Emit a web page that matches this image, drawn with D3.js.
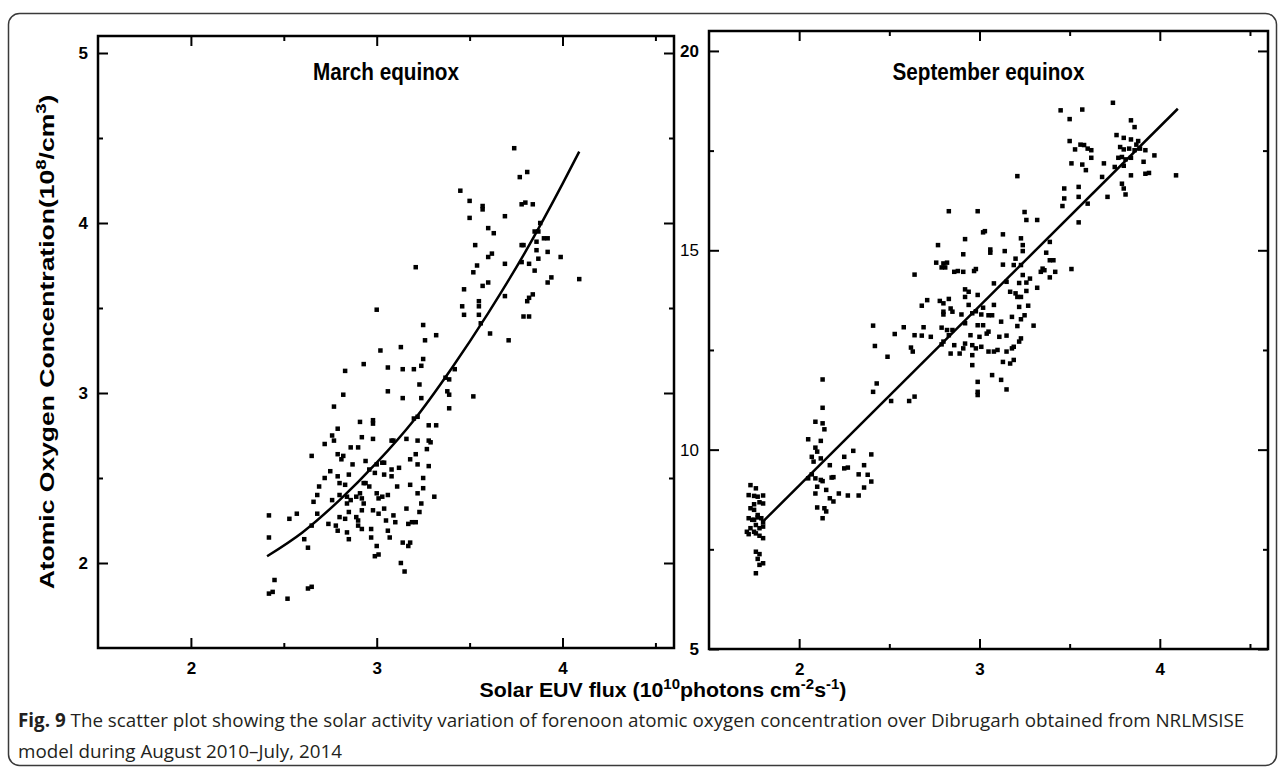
<!DOCTYPE html>
<html>
<head>
<meta charset="utf-8">
<script src="https://cdn.jsdelivr.net/npm/d3@7"></script>
<style>
  body { margin: 0; background: #fff; }
  svg text { font-family: "Liberation Sans", Arial, sans-serif; }
</style>
</head>
<body>
<div id="canvas"></div>
<script>
// March equinox: solar EUV flux (10^10 photons cm-2 s-1) vs O concentration (10^8/cm3)
const marchFlux = [
  3.74, 3.81, 3.77, 3.45, 3.50, 3.57, 3.57, 3.78, 3.80, 3.84,
  3.50, 3.69, 3.88, 3.60, 3.63, 3.85, 3.87, 3.90, 3.92, 3.86,
  3.53, 3.78, 3.79, 3.86, 3.92, 3.99, 3.60, 3.62, 3.78, 3.82,
  3.87, 3.69, 3.54, 3.21, 3.52, 3.85, 3.94, 3.92, 4.09, 3.47,
  3.57, 3.60, 3.69, 3.81, 3.84, 3.82, 3.55, 3.55, 3.46, 3.47,
  3.55, 3.79, 3.82, 3.00, 3.56, 3.25, 3.61, 3.26, 3.32, 3.71,
  3.02, 3.13, 3.25, 3.24, 2.93, 2.83, 3.06, 3.14, 3.20, 3.42,
  3.23, 3.37, 3.39, 2.82, 3.06, 3.38, 3.39, 3.52, 3.14, 3.24,
  2.77, 3.39, 3.20, 3.22, 3.28, 3.32, 2.79, 2.91, 2.98, 2.98,
  2.76, 2.77, 2.72, 2.92, 2.98, 3.08, 3.09, 3.16, 3.22, 3.28,
  3.29, 2.86, 2.90, 2.79, 2.82, 2.65, 3.27, 2.81, 2.94, 3.00,
  3.03, 3.04, 2.87, 3.21, 3.18, 3.22, 3.28, 2.75, 2.72, 2.79,
  2.85, 2.96, 2.99, 3.04, 3.08, 3.12, 3.08, 3.25, 2.69, 2.80,
  2.83, 2.93, 2.94, 2.96, 3.11, 3.18, 3.25, 3.31, 2.66, 2.68,
  2.76, 2.80, 2.84, 2.86, 2.89, 2.91, 2.92, 3.00, 3.01, 3.03,
  3.06, 3.22, 3.24, 2.84, 2.93, 2.92, 2.98, 3.01, 3.04, 3.09,
  3.16, 3.23, 2.42, 2.53, 2.57, 2.68, 2.65, 2.74, 2.80, 2.83,
  2.85, 2.89, 2.90, 2.90, 2.92, 3.05, 3.10, 3.17, 3.19, 3.21,
  2.78, 2.79, 2.84, 2.97, 3.06, 2.42, 2.61, 2.63, 2.85, 2.97,
  3.07, 3.14, 3.18, 3.17, 3.00, 2.99, 3.01, 3.13, 3.15, 2.45,
  2.52, 2.42, 2.44, 2.63, 2.65
];
const marchO = [
  4.44, 4.30, 4.27, 4.19, 4.13, 4.10, 4.08, 4.11, 4.12, 4.11,
  4.03, 4.04, 4.00, 3.97, 3.94, 3.95, 3.95, 3.91, 3.91, 3.89,
  3.87, 3.87, 3.87, 3.84, 3.83, 3.80, 3.80, 3.82, 3.77, 3.76,
  3.79, 3.76, 3.75, 3.74, 3.71, 3.72, 3.68, 3.65, 3.67, 3.61,
  3.63, 3.65, 3.57, 3.54, 3.58, 3.56, 3.54, 3.51, 3.51, 3.46,
  3.46, 3.45, 3.45, 3.49, 3.41, 3.40, 3.35, 3.31, 3.34, 3.31,
  3.25, 3.27, 3.20, 3.16, 3.17, 3.13, 3.15, 3.14, 3.14, 3.14,
  3.05, 3.09, 3.08, 2.99, 3.01, 3.01, 2.99, 2.98, 2.97, 2.97,
  2.92, 2.91, 2.85, 2.86, 2.81, 2.81, 2.79, 2.83, 2.84, 2.82,
  2.75, 2.72, 2.70, 2.74, 2.73, 2.72, 2.72, 2.73, 2.72, 2.72,
  2.71, 2.68, 2.68, 2.64, 2.63, 2.63, 2.67, 2.61, 2.60, 2.58,
  2.59, 2.59, 2.58, 2.64, 2.61, 2.58, 2.57, 2.54, 2.50, 2.51,
  2.52, 2.55, 2.53, 2.52, 2.55, 2.56, 2.51, 2.50, 2.45, 2.47,
  2.46, 2.47, 2.47, 2.45, 2.45, 2.46, 2.44, 2.39, 2.36, 2.40,
  2.37, 2.40, 2.39, 2.37, 2.39, 2.41, 2.38, 2.41, 2.38, 2.39,
  2.40, 2.41, 2.35, 2.35, 2.35, 2.31, 2.31, 2.29, 2.32, 2.28,
  2.32, 2.30, 2.28, 2.26, 2.29, 2.29, 2.22, 2.23, 2.27, 2.26,
  2.30, 2.27, 2.25, 2.22, 2.20, 2.25, 2.24, 2.23, 2.24, 2.24,
  2.22, 2.19, 2.18, 2.20, 2.19, 2.15, 2.14, 2.09, 2.14, 2.15,
  2.15, 2.12, 2.12, 2.10, 2.10, 2.04, 2.05, 2.00, 1.95, 1.90,
  1.79, 1.82, 1.83, 1.85, 1.86
];
// fitted curve
const marchFitFlux = [2.41, 2.6, 2.8, 3.0, 3.2, 3.4, 3.6, 3.8, 4.0, 4.09];
const marchFitO = [2.04, 2.18, 2.37, 2.59, 2.84, 3.14, 3.47, 3.83, 4.23, 4.42];

// September equinox
const septFlux = [
  3.74, 3.45, 3.57, 3.50, 3.84, 3.86, 3.76, 3.80, 3.50, 3.84,
  3.88, 3.87, 3.56, 3.58, 3.60, 3.62, 3.53, 3.78, 3.80, 3.83,
  3.86, 3.89, 3.92, 3.97, 3.62, 3.79, 3.81, 3.77, 3.84, 3.69,
  3.91, 3.51, 3.57, 3.59, 3.68, 3.75, 3.80, 3.84, 3.92, 3.94,
  4.09, 3.21, 3.79, 3.80, 3.81, 3.71, 3.47, 3.55, 3.47, 3.55,
  3.46, 3.60, 3.55, 2.83, 2.99, 3.25, 3.26, 3.32, 3.03, 3.02,
  3.13, 2.92, 3.23, 3.39, 2.77, 3.24, 2.91, 3.06, 3.06, 3.14,
  3.24, 3.37, 3.39, 3.41, 3.51, 2.76, 2.80, 2.82, 2.79, 2.81,
  2.88, 2.86, 2.91, 2.97, 2.98, 3.13, 3.20, 3.19, 3.23, 3.35,
  3.36, 3.42, 3.34, 3.39, 3.24, 2.64, 3.28, 3.32, 3.26, 3.22,
  3.15, 3.08, 2.92, 2.94, 2.92, 2.99, 3.17, 3.20, 3.21, 3.26,
  3.23,
  2.68, 2.71, 2.78, 2.80, 2.83, 2.84, 2.85, 2.80, 2.80, 2.90,
  2.94, 2.96, 2.98, 3.01, 3.02, 3.05, 3.07, 3.08, 3.12, 3.18,
  3.22, 3.27, 3.25, 3.23, 3.30, 2.41, 2.58, 2.53, 2.64, 2.68,
  2.69, 2.73, 2.79, 2.82, 2.85, 2.83, 2.92, 2.95, 2.99, 3.02,
  3.00, 3.04, 3.05, 3.11, 3.15, 3.21, 3.23, 3.22, 2.42, 2.62,
  2.63, 2.79, 2.80, 2.86, 2.84, 2.89, 2.91, 2.92, 2.96, 2.98,
  2.96, 3.01, 3.05, 3.08, 3.10, 3.15, 3.18, 3.19, 3.13, 3.17,
  3.19, 2.49, 2.96, 3.07, 3.12, 2.99, 2.99, 3.15, 2.99, 2.43,
  2.41, 2.51, 2.61, 2.64, 2.13, 2.13, 2.09, 2.13, 2.14, 2.12,
  2.05, 2.09, 2.10, 2.07, 2.08, 2.12, 2.17, 2.25, 2.30, 2.40,
  2.25, 2.27, 2.36, 2.38, 2.33, 2.40, 2.36, 2.05, 2.07, 2.09,
  2.13, 2.10, 2.09, 2.15, 2.17, 2.19, 2.22, 2.27, 2.33, 2.10,
  2.14, 2.15, 2.13, 2.18, 2.19, 2.12,
  1.73, 1.76, 1.72, 1.75, 1.77, 1.80, 1.75, 1.78, 1.80, 1.73,
  1.75, 1.72, 1.75, 1.77, 1.79, 1.80, 1.76, 1.73, 1.75, 1.78,
  1.80, 1.72, 1.76, 1.78, 1.80, 1.76, 1.78, 1.77, 1.80, 1.78,
  1.76, 1.74, 1.71, 1.77
];
const septO = [
  18.70, 18.51, 18.53, 18.29, 18.26, 18.09, 17.89, 17.82, 17.74, 17.78,
  17.74, 17.65, 17.65, 17.64, 17.55, 17.51, 17.53, 17.59, 17.53, 17.55,
  17.51, 17.55, 17.51, 17.38, 17.32, 17.34, 17.28, 17.32, 17.32, 17.18,
  17.22, 17.18, 17.15, 17.01, 16.84, 17.09, 17.12, 16.88, 16.92, 16.94,
  16.88, 16.86, 16.67, 16.55, 16.40, 16.34, 16.55, 16.59, 16.30, 16.34,
  16.11, 16.17, 15.70, 15.98, 15.98, 15.96, 15.76, 15.76, 15.48, 15.45,
  15.40, 15.28, 15.30, 15.21, 15.13, 15.13, 14.90, 15.02, 14.94, 14.98,
  14.98, 14.94, 14.75, 14.75, 14.53, 14.69, 14.67, 14.69, 14.57, 14.57,
  14.48, 14.46, 14.46, 14.48, 14.53, 14.64, 14.79, 14.63, 14.63, 14.54,
  14.50, 14.46, 14.46, 14.32, 14.38, 14.39, 14.29, 14.06, 14.19, 14.18,
  14.21, 14.17, 14.02, 13.96, 13.83, 13.88, 13.96, 13.92, 13.83, 13.98,
  13.83,
  13.61, 13.75, 13.73, 13.67, 13.78, 13.54, 13.46, 13.46, 13.39, 13.39,
  13.63, 13.42, 13.47, 13.39, 13.56, 13.37, 13.37, 13.63, 13.21, 13.33,
  13.58, 13.61, 13.37, 13.27, 13.11, 13.11, 13.07, 12.90, 12.87, 12.86,
  13.07, 12.83, 13.06, 13.00, 13.00, 12.87, 13.17, 12.87, 13.12, 13.12,
  12.83, 12.91, 12.96, 12.83, 12.86, 13.10, 12.79, 12.71, 12.60, 12.56,
  12.46, 12.64, 12.71, 12.62, 12.41, 12.41, 12.54, 12.66, 12.62, 12.54,
  12.37, 12.58, 12.46, 12.46, 12.50, 12.46, 12.54, 12.58, 12.20, 12.16,
  12.25, 12.33, 12.12, 11.87, 11.75, 11.70, 11.37, 11.51, 11.45, 11.66,
  11.45, 11.22, 11.22, 11.33, 11.76, 11.05, 10.70, 10.66, 10.51, 10.22,
  10.26, 10.05, 9.95, 9.82, 9.70, 9.78, 9.61, 9.82, 9.97, 9.88,
  9.53, 9.55, 9.61, 9.37, 9.38, 9.20, 9.05, 9.28, 9.38, 9.28,
  9.21, 9.07, 8.90, 8.99, 8.78, 8.70, 8.90, 8.85, 8.85, 8.55,
  8.53, 8.45, 8.28, 9.30, 9.31, 9.24,
  9.11, 9.03, 8.86, 8.84, 8.82, 8.85, 8.63, 8.68, 8.65, 8.53,
  8.49, 8.28, 8.24, 8.30, 8.28, 8.18, 8.11, 8.03, 7.94, 8.03,
  8.07, 7.88, 7.90, 7.84, 7.78, 7.44, 7.38, 7.26, 7.15, 7.11,
  6.90, 8.24, 7.94, 8.36
];
const septFitFlux = [1.80, 4.10];
const septFitO = [8.2, 18.55];

const fluxTicks = [2, 3, 4];
const fluxMinor = [2.5, 3.5, 4.5];
const marchTicks = [2, 3, 4, 5];
const marchMinor = [2.5, 3.5, 4.5];
const septTicks = [5, 10, 15, 20];
const septMinor = [7.5, 12.5, 17.5];

const width = 1282;
const height = 768;

const svg = d3.select("#canvas")
  .append("svg")
  .attr("width", width)
  .attr("height", height);

svg.append("rect").attr("width", width).attr("height", height).attr("fill", "#fff");

// rounded frame around figure + caption
svg.append("rect")
  .attr("x", 8.5).attr("y", 13.5)
  .attr("width", 1268).attr("height", 752)
  .attr("rx", 11)
  .attr("fill", "none")
  .attr("stroke", "#3a3a3a")
  .attr("stroke-width", 1.5);

function drawPanel(p) {
  const x = d3.scaleLinear().domain([1.5, 4.6]).range([p.left, p.right]);
  const y = d3.scaleLinear().domain(p.yDomain).range([p.bottom, p.top]);
  const g = svg.append("g");

  function axis(gen, tx, ty, values, size, labels) {
    const a = gen.tickValues(values).tickSizeInner(-size).tickSizeOuter(0).tickPadding(p.pad);
    if (!labels) a.tickFormat("");
    const ax = g.append("g").attr("transform", "translate(" + tx + "," + ty + ")").call(a);
    ax.select(".domain").remove();
    ax.selectAll("line").attr("stroke", "#000").attr("stroke-width", 2);
    return ax;
  }

  const xl = axis(d3.axisBottom(x).tickFormat(d3.format("d")), 0, p.bottom, fluxTicks, 10, true);
  xl.selectAll("text").attr("dy", null).attr("y", 26);
  axis(d3.axisBottom(x), 0, p.bottom, fluxMinor, 5, false);
  axis(d3.axisTop(x), 0, p.top, fluxTicks, 10, false);
  axis(d3.axisTop(x), 0, p.top, fluxMinor, 5, false);

  const yl = axis(d3.axisLeft(y).tickFormat(d3.format("d")), p.left, 0, p.yTicks, 10, true);
  axis(d3.axisLeft(y), p.left, 0, p.yMinor, 5, false);
  axis(d3.axisRight(y), p.right, 0, p.yTicks, 10, false);
  axis(d3.axisRight(y), p.right, 0, p.yMinor, 5, false);

  g.selectAll(".tick text")
    .attr("fill", "#000")
    .style("font-size", "17px")
    .style("font-weight", "bold");
  yl.selectAll("text").style("font-weight", p.labelWeight);

  g.append("rect")
    .attr("x", p.left).attr("y", p.top)
    .attr("width", p.right - p.left).attr("height", p.bottom - p.top)
    .attr("fill", "none")
    .attr("stroke", "#000")
    .attr("stroke-width", 2.5);

  g.selectAll(".pt")
    .data(p.xs)
    .enter()
    .append("rect")
    .attr("x", (d) => x(d) - 2.25)
    .attr("y", (d, i) => y(p.ys[i]) - 2.25)
    .attr("width", 4.5)
    .attr("height", 4.5)
    .attr("fill", "#000");

  const line = d3.line()
    .x((d) => x(d))
    .y((d, i) => y(p.fitY[i]))
    .curve(d3.curveMonotoneX);

  g.append("path")
    .attr("d", line(p.fitX))
    .attr("fill", "none")
    .attr("stroke", "#000")
    .attr("stroke-width", 2.5);

  g.append("text")
    .attr("transform", "translate(" + (p.left + p.right) / 2 + ",80) scale(0.9,1)")
    .attr("text-anchor", "middle")
    .style("font-size", "23px")
    .style("font-weight", "bold")
    .text(p.title);
}

drawPanel({
  left: 98, right: 674, top: 36, bottom: 648,
  yDomain: [1.5, 5.1], yTicks: marchTicks, yMinor: marchMinor,
  xs: marchFlux, ys: marchO, fitX: marchFitFlux, fitY: marchFitO,
  title: "March equinox", pad: 10, labelWeight: (d) => "bold"
});

drawPanel({
  left: 709, right: 1268, top: 31, bottom: 649,
  yDomain: [5, 20.5], yTicks: septTicks, yMinor: septMinor,
  xs: septFlux, ys: septO, fitX: septFitFlux, fitY: septFitO,
  title: "September equinox", pad: 10,
  labelWeight: (d) => (d === 10 || d === 15) ? "normal" : "bold"
});

// squeeze a text element horizontally to a target width
function fit(sel, tx, ty, rot, target) {
  const w = sel.node().getComputedTextLength();
  const s = target / w;
  sel.attr("transform", "translate(" + tx + "," + ty + ") rotate(" + rot + ") scale(" + s + ",1)");
}

const yLab = svg.append("text")
  .attr("text-anchor", "middle")
  .style("font-size", "20px")
  .style("font-weight", "bold");
yLab.append("tspan").text("Atomic Oxygen Concentration(10");
yLab.append("tspan").attr("dy", -8).style("font-size", "14px").text("8");
yLab.append("tspan").attr("dy", 8).text("/cm");
yLab.append("tspan").attr("dy", -8).style("font-size", "14px").text("3");
yLab.append("tspan").attr("dy", 8).text(")");
fit(yLab, 54, 342, -90, 495);

const xLab = svg.append("text")
  .attr("text-anchor", "middle")
  .style("font-size", "20px")
  .style("font-weight", "bold");
xLab.append("tspan").text("Solar EUV flux (10");
xLab.append("tspan").attr("dy", -8).style("font-size", "14px").text("10");
xLab.append("tspan").attr("dy", 8).text("photons cm");
xLab.append("tspan").attr("dy", -8).style("font-size", "14px").text("-2");
xLab.append("tspan").attr("dy", 8).text("s");
xLab.append("tspan").attr("dy", -8).style("font-size", "14px").text("-1");
xLab.append("tspan").attr("dy", 8).text(")");
fit(xLab, 663, 697, 0, 367);

// caption
const cap1 = svg.append("text")
  .style("font-family", "'Open Sans', 'Noto Sans', sans-serif")
  .style("font-size", "19px")
  .attr("fill", "#231f20");
cap1.append("tspan").style("font-weight", "bold").text("Fig. 9");
cap1.append("tspan").text(" The scatter plot showing the solar activity variation of forenoon atomic oxygen concentration over Dibrugarh obtained from NRLMSISE");
const capScale = 1227 / cap1.node().getComputedTextLength();
cap1.attr("transform", "translate(18,727) scale(" + capScale + ",1)");

svg.append("text")
  .style("font-family", "'Open Sans', 'Noto Sans', sans-serif")
  .style("font-size", "19px")
  .attr("fill", "#231f20")
  .attr("transform", "translate(18,758) scale(" + capScale + ",1)")
  .text("model during August 2010\u2013July, 2014");
</script>
</body>
</html>
